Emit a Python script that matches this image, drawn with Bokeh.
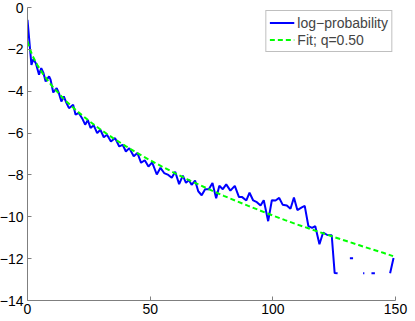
import numpy as np
from bokeh.plotting import figure
from bokeh.models import Range1d, FixedTicker, Legend, LegendItem, ColumnDataSource
from bokeh.embed import file_html
from bokeh.resources import INLINE

nan = float("nan")

# log-probability curve (NaN = gap where nothing is drawn)
x_data = [0.0, 1.6, 2.4, 3.4, 4.7, 5.6, 6.5, 7.4, 8.8, 9.4, 10.5, 11.9, 12.8, 13.8,
          14.8, 15.9, 16.9, 18.6, 19.6, 20.9, 22.3, 23.5, 24.6, 25.7, 27.0, 28.4,
          29.7, 31.1, 32.4, 34.0, 35.7, 37.4, 38.8, 40.1, 41.5, 43.3, 44.8, 46.3,
          47.8, 49.3, 50.8, 52.7, 54.2, 55.7, 57.4, 58.8, 60.2, 61.8, 63.3, 64.6,
          65.8, 66.9, 68.3, 69.6, 71.0, 72.4, 73.9, 75.4, 76.9, 78.2, 79.6, 81.0,
          82.7, 84.5, 86.2, 87.5, 89.2, 90.5, 92.0, 93.5, 95.0, 96.3, 98.1, 99.6,
          101.1, 102.6, 104.0, 105.7, 107.2, 108.6, 110.0, 111.8, 113.0, 114.5,
          116.0, 117.3, 119.0, 120.5, 122.2, 124.0, 125.2, 126.4, nan,
          131.4, 132.7, nan, 136.8, 137.3, nan, 140.2, 141.6, nan, 147.8, 149.2]
y_data = [-0.59, -2.74, -2.47, -2.66, -3.21, -2.90, -3.13, -3.53, -3.29, -3.45, -4.06,
          -3.85, -4.09, -4.49, -4.25, -4.57, -4.81, -4.65, -5.12, -5.04, -5.30, -5.60,
          -5.38, -5.76, -5.63, -6.00, -5.84, -6.20, -6.08, -6.40, -6.24, -6.64, -6.56,
          -6.88, -6.72, -7.11, -6.95, -7.42, -7.30, -7.60, -7.40, -7.98, -7.66, -7.91,
          -8.00, -8.14, -7.85, -8.44, -8.03, -8.38, -8.24, -8.47, -8.27, -8.78, -8.97,
          -8.68, -8.68, -8.39, -9.12, -8.52, -8.68, -8.45, -8.75, -8.52, -9.06, -9.06,
          -9.22, -8.85, -9.22, -9.30, -9.46, -9.21, -10.21, -9.21, -9.22, -9.10, -9.42,
          -9.46, -9.62, -9.08, -9.68, -9.55, -9.48, -10.45, -10.53, -10.45, -11.31,
          -10.75, -10.87, -10.88, -12.69, -12.70, nan,
          -11.98, -11.98, nan, -12.70, -12.70, nan, -12.70, -12.70, nan, -12.70, -11.97]

# fitted curve, q = 0.50
fit_x = [0, 1, 2, 4, 6, 8, 10, 15, 20, 25, 30, 35, 40, 45, 50, 55, 60, 65, 70, 75,
         80, 85, 90, 95, 100, 105, 110, 115, 120, 125, 130, 135, 140, 145, 149]
fit_y = [-1.62, -2.00, -2.29, -2.75, -3.12, -3.45, -3.75, -4.40, -4.93, -5.41, -5.85,
         -6.25, -6.62, -6.97, -7.30, -7.61, -7.91, -8.20, -8.47, -8.74, -9.00, -9.24,
         -9.48, -9.71, -9.94, -10.16, -10.37, -10.57, -10.77, -10.97, -11.16, -11.35,
         -11.54, -11.72, -11.88]

x_ticks = [0, 50, 100, 150]
y_ticks = [-14, -12, -10, -8, -6, -4, -2, 0]
y_tick_labels = ["\u221214", "\u221212", "\u221210", "\u22128", "\u22126", "\u22124", "\u22122", "0"]
series_labels = ["log\u2212probability", "Fit; q=0.50"]

FONT = "Liberation Sans"

p = figure(width=415, height=321, output_backend="svg", toolbar_location=None,
           x_range=Range1d(0, 150), y_range=Range1d(-14, 0),
           min_border_left=29, min_border_right=16, min_border_top=11, min_border_bottom=17,
           styles={"margin": "-4px"})
p.outline_line_color = None
p.grid.visible = False
p.background_fill_color = "white"
p.border_fill_color = "white"

src = ColumnDataSource(data=dict(x=np.array(x_data, dtype=float), y=np.array(y_data, dtype=float)))
fsrc = ColumnDataSource(data=dict(x=np.array(fit_x, dtype=float), y=np.array(fit_y, dtype=float)))

r1 = p.line("x", "y", source=src, line_color="#0000ff", line_width=2)
r2 = p.line("x", "y", source=fsrc, line_color="#00ff00", line_width=2, line_dash="5 3")

for ax in (p.xaxis[0], p.yaxis[0]):
    ax.axis_line_color = "#7f7f7f"
    ax.axis_line_width = 1
    ax.major_tick_line_color = "#7f7f7f"
    ax.major_tick_in = 4
    ax.major_tick_out = 0
    ax.minor_tick_line_color = None
    ax.major_label_text_font = FONT
    ax.major_label_text_font_size = "14px"
    ax.major_label_text_color = "black"

p.xaxis.ticker = FixedTicker(ticks=x_ticks)
p.yaxis.ticker = FixedTicker(ticks=y_ticks)
p.yaxis.major_label_overrides = {t: l for t, l in zip(y_ticks, y_tick_labels)}
p.xaxis.major_label_standoff = 3
p.yaxis.major_label_standoff = 4

legend = Legend(items=[LegendItem(label=series_labels[0], renderers=[r1]),
                       LegendItem(label=series_labels[1], renderers=[r2])],
                location="top_right", margin=3, padding=3, spacing=0,
                glyph_width=25, glyph_height=17, label_height=17, label_standoff=3,
                label_text_font=FONT, label_text_font_size="14px",
                border_line_color="#7f7f7f", border_line_width=1,
                background_fill_color="white", background_fill_alpha=1.0)
p.add_layout(legend)

open("out.html", "w").write(file_html(p, INLINE))
